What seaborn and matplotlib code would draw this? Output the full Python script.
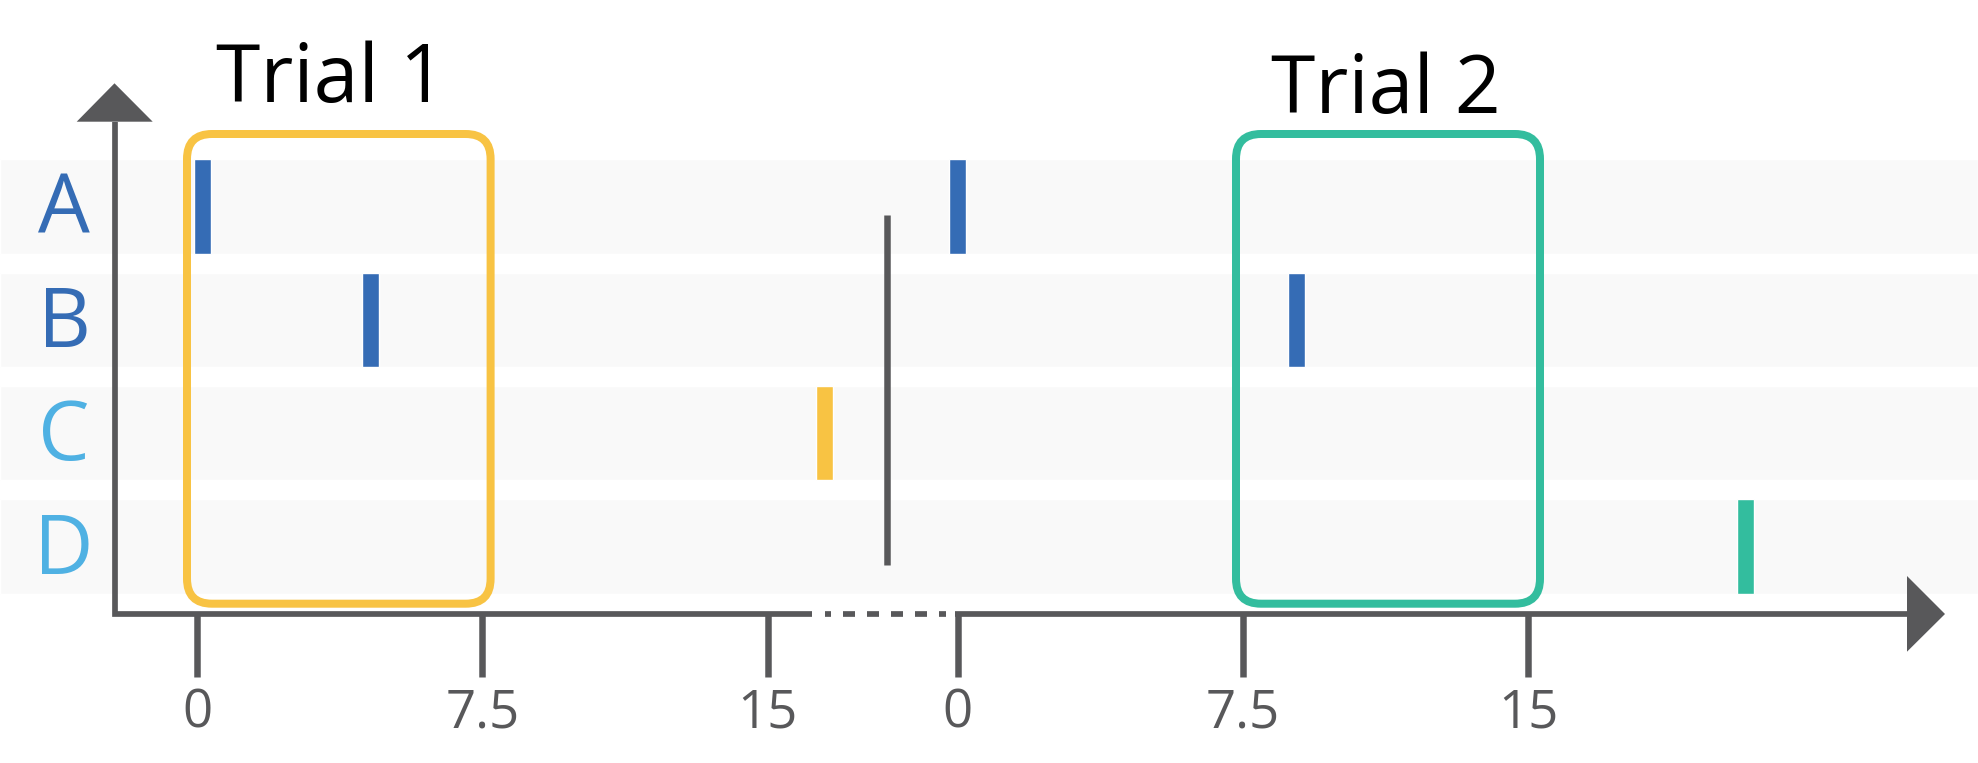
import matplotlib
matplotlib.use("Agg")
import matplotlib.pyplot as plt
from matplotlib.patches import FancyBboxPatch, Polygon
import seaborn as sns
import pandas as pd

# rows (top to bottom) and their label colours
rows = ["A", "B", "C", "D"]
row_colors = ["#356cb5", "#356cb5", "#4fb1e3", "#4fb1e3"]

# events, time within each trial
trial1_rows = ["A", "B", "C"]
trial1_times = [0.15, 4.57, 16.5]
trial1_colors = ["#356cb5", "#356cb5", "#f8c343"]

trial2_rows = ["A", "B", "D"]
trial2_times = [0.0, 8.9, 20.7]
trial2_colors = ["#356cb5", "#356cb5", "#33bd9e"]

tick_values = [0, 7.5, 15]
tick_labels = ["0", "7.5", "15"]
trial_names = ["Trial 1", "Trial 2"]

GRAY = "#58585a"
BAND = "#f9f9f9"
YELLOW = "#f8c343"
GREEN = "#33bd9e"

# layout (pixel grid of the 1978x763 picture)
W, H = 1978, 763
PX_X, X0 = 38.04, 197.0      # px per time unit, px of trial-1 zero
PX_Y, Y0 = 113.4, 546.5      # px per row, px of the bottom row centre
OFFSET = 20.0                # where trial 2 starts on the shared axis


def fx(px):
    return (px - X0) / PX_X


def fy(py):
    return (Y0 - py) / PX_Y


def pt(px):
    return px * 72 / 100


sns.set_theme(style="white")
plt.rcParams["font.family"] = ["Open Sans", "DejaVu Sans"]
plt.rcParams["lines.scale_dashes"] = False

ypos = {r: len(rows) - 1 - i for i, r in enumerate(rows)}
events = pd.DataFrame({
    "row": trial1_rows + trial2_rows,
    "t": trial1_times + [t + OFFSET for t in trial2_times],
    "color": trial1_colors + trial2_colors,
})
events["y"] = events["row"].map(ypos)

fig = plt.figure(figsize=(W / 100, H / 100), dpi=100)
ax = fig.add_axes([0, 0, 1, 1])
ax.set_xlim(fx(0), fx(W))
ax.set_ylim(fy(H), fy(0))
for s in ax.spines.values():
    s.set_visible(False)
ax.set_facecolor("white")

band_h = 94.4 / PX_Y
# row bands
ax.barh([ypos[r] for r in rows], width=fx(W) - fx(0), left=fx(0),
        height=band_h, color=BAND, zorder=0)

# event marks
ax.bar(events["t"], band_h, bottom=events["y"] - band_h / 2,
       width=17 / PX_X, color=events["color"], zorder=3)

# row labels
for r, c in zip(rows, row_colors):
    ax.text(fx(64), fy(Y0 - ypos[r] * PX_Y + 27), r, color=c,
            fontsize=59, ha="center", va="baseline")

# trial windows
ma = PX_X / PX_Y
for x0, x1, col in [(187, 490.6, YELLOW), (1236, 1540, GREEN)]:
    box = FancyBboxPatch((fx(x0), fy(603.7)), fx(x1) - fx(x0), fy(134) - fy(603.7),
                         boxstyle=f"round,pad=0,rounding_size={25 / PX_X}",
                         mutation_aspect=ma, fill=False, ec=col, lw=pt(8), zorder=4)
    ax.add_patch(box)

ax.text(fx(331), fy(102), trial_names[0], fontsize=58, ha="center", va="baseline", color="black")
ax.text(fx(1386), fy(113), trial_names[1], fontsize=58, ha="center", va="baseline", color="black")

# separator between trials
ax.plot([fx(887.3), fx(887.3)], [fy(214.7), fy(565)], color=GRAY, lw=pt(6.5),
        solid_capstyle="butt", zorder=3)

# axes lines
axis_y = fy(614)
ax.plot([fx(114.5), fx(114.5), fx(811.7)], [fy(121.7), axis_y, axis_y], color=GRAY,
        lw=pt(5.7), solid_joinstyle="miter", solid_capstyle="butt", zorder=5)
ax.plot([fx(825), fx(946)], [axis_y, axis_y], color=GRAY, lw=pt(5.7),
        linestyle=(pt(6), (pt(12), pt(12))), zorder=5)
ax.plot([fx(955), fx(1908)], [axis_y, axis_y], color=GRAY, lw=pt(5.7),
        solid_capstyle="butt", zorder=5)
ax.add_patch(Polygon([(fx(76.7), fy(121.7)), (fx(152.7), fy(121.7)), (fx(114.5), fy(83.3))],
                     closed=True, color=GRAY, lw=0, zorder=5))
ax.add_patch(Polygon([(fx(1907), fy(576)), (fx(1907), fy(651.7)), (fx(1945), fy(614))],
                     closed=True, color=GRAY, lw=0, zorder=5))

# ticks of both trials on the shared axis
ax.spines["bottom"].set_position(("data", axis_y))
ax.set_xticks(tick_values + [t + OFFSET for t in tick_values], tick_labels * 2)
ax.set_yticks([])
ax.tick_params(axis="x", bottom=True, direction="out", length=pt(62.7), width=pt(6.5),
               color=GRAY, labelcolor=GRAY, labelsize=38, pad=pt(10))
ax.grid(False)

fig.savefig("out.png", dpi=100)
